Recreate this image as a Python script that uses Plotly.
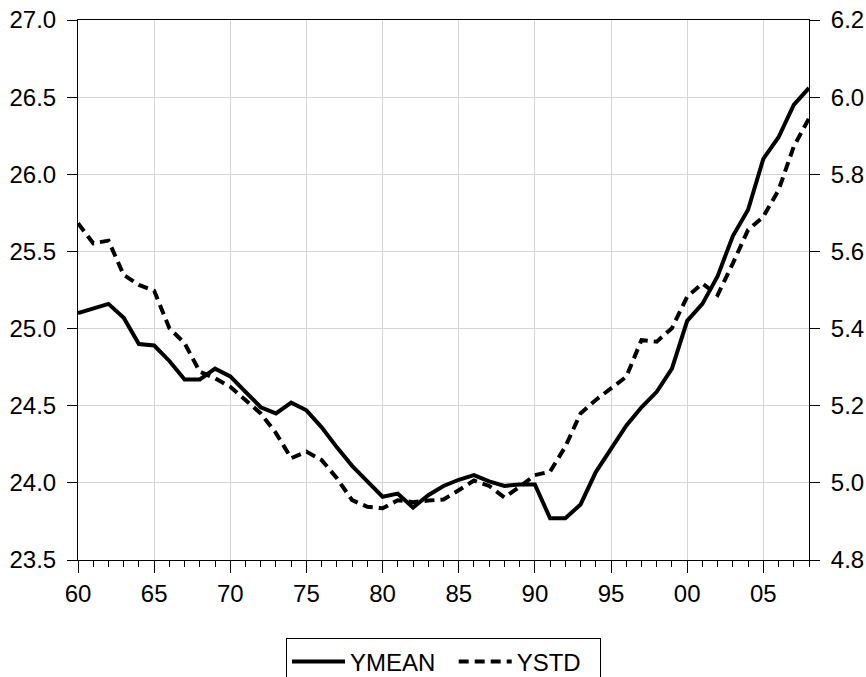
import plotly.graph_objects as go

years = list(range(1960, 2009))
ymean = [25.10, 25.13, 25.16, 25.07, 24.90, 24.89, 24.79, 24.67, 24.67, 24.74,
         24.69, 24.59, 24.49, 24.45, 24.52, 24.47, 24.36, 24.23, 24.11, 24.01,
         23.91, 23.93, 23.84, 23.92, 23.98, 24.02, 24.05, 24.01, 23.98, 23.99,
         23.99, 23.77, 23.77, 23.86, 24.07, 24.22, 24.37, 24.49, 24.59, 24.74,
         25.05, 25.16, 25.34, 25.60, 25.77, 26.10, 26.24, 26.45, 26.56]
ystd = [5.673, 5.621, 5.628, 5.539, 5.513, 5.498, 5.401, 5.362, 5.288, 5.271,
        5.249, 5.215, 5.180, 5.129, 5.064, 5.081, 5.059, 5.012, 4.955, 4.938,
        4.934, 4.955, 4.950, 4.954, 4.957, 4.981, 5.006, 4.992, 4.962, 4.990,
        5.020, 5.029, 5.094, 5.180, 5.215, 5.245, 5.275, 5.370, 5.366, 5.401,
        5.483, 5.517, 5.487, 5.569, 5.656, 5.690, 5.759, 5.872, 5.945]
xtick_vals = list(range(1960, 2009, 5))
xtick_text = ["60", "65", "70", "75", "80", "85", "90", "95", "00", "05"]
left_ticks = [23.5, 24.0, 24.5, 25.0, 25.5, 26.0, 26.5, 27.0]
right_ticks = [4.8, 5.0, 5.2, 5.4, 5.6, 5.8, 6.0, 6.2]
series_names = ["YMEAN", "YSTD"]

FONT = "Liberation Sans, Arial, sans-serif"
GRID = "#d4d4d4"
PAD = "\u00a0\u00a0"

fig = go.Figure()
fig.add_trace(go.Scatter(x=years, y=ymean, name=series_names[0] + PAD, mode="lines",
                         line=dict(color="black", width=4)))
fig.add_trace(go.Scatter(x=years, y=ystd, name=series_names[1] + PAD, mode="lines",
                         yaxis="y2",
                         line=dict(color="black", width=4, dash="10px,6px")))

fig.update_layout(
    width=866, height=677,
    margin=dict(l=78, r=57, t=20, b=117, autoexpand=False),
    paper_bgcolor="white", plot_bgcolor="white",
    font=dict(family=FONT, size=24, color="black"),
    showlegend=True,
    legend=dict(orientation="h", x=0.5, xanchor="center", y=-0.145, yanchor="top",
                bordercolor="black", borderwidth=1, font=dict(size=24),
                itemwidth=53, tracegroupgap=0),
    xaxis=dict(range=[1960, 2008], tickmode="array", tickvals=xtick_vals,
               ticktext=xtick_text, ticks="outside", ticklen=12, tickwidth=1,
               tickcolor="black", showline=True, linecolor="black", linewidth=1,
               mirror=True, showgrid=True, gridcolor=GRID, gridwidth=1,
               zeroline=False, automargin=False,
               minor=dict(tickmode="linear", tick0=1960, dtick=1, ticks="outside",
                          ticklen=6, tickcolor="black", tickwidth=1, showgrid=False)),
    yaxis=dict(range=[23.5, 27.0], tickmode="array", tickvals=left_ticks,
               tickformat=".1f", ticks="outside", ticklen=10, tickcolor="black",
               ticklabelstandoff=6,
               showline=True, linecolor="black", linewidth=1, automargin=False,
               showgrid=True, gridcolor=GRID, gridwidth=1, zeroline=False),
    yaxis2=dict(range=[4.8, 6.2], tickmode="array", tickvals=right_ticks,
                tickformat=".1f", overlaying="y", side="right", automargin=False,
                ticks="outside", ticklen=10, tickcolor="black",
                ticklabelstandoff=6,
                showline=True, linecolor="black", linewidth=1,
                showgrid=False, zeroline=False),
)

fig.write_html("out.html", config={"displayModeBar": False},
               post_script="document.body.style.margin='0';document.body.style.overflow='hidden';")
